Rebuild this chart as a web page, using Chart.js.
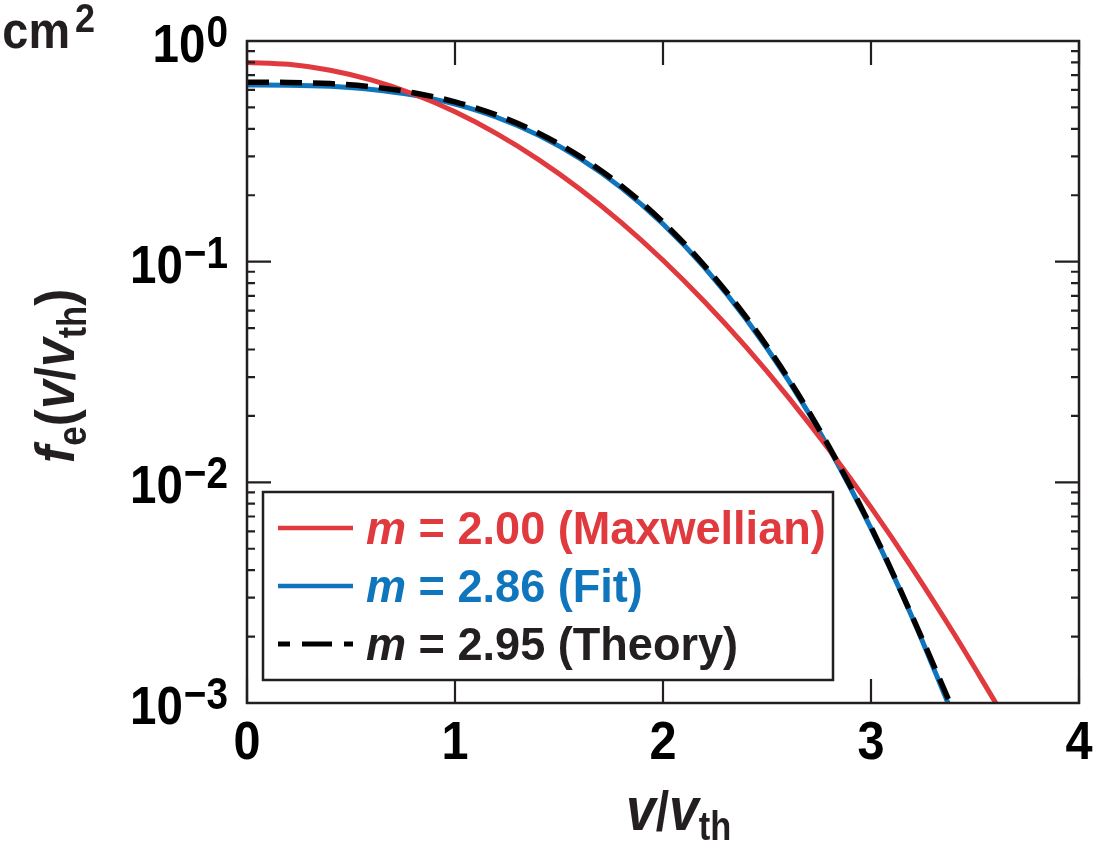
<!DOCTYPE html>
<html><head><meta charset="utf-8">
<script src="https://cdn.jsdelivr.net/npm/chart.js@4.4.1/dist/chart.umd.min.js"></script>
<style>html,body{margin:0;padding:0;background:#fff}#wrap{width:1106px;height:848px;position:relative}</style>
</head><body><div id="wrap"><canvas id="c"></canvas></div>
<script>
// ---- data ----
const vRed = [0,0.2,0.4,0.6,0.8,1.0,1.2,1.4,1.6,1.8,2.0,2.2,2.4,2.6,2.8,3.0,3.2,3.4,3.6];
const fRed = [0.800,0.7837,0.7366,0.6644,0.5751,0.4775,0.3806,0.2910,0.2135,0.1503,0.1015,0.06583,0.04096,0.02445,0.01401,0.007697,0.004058,0.002054,0.0010];
const vFit = [0,0.2,0.4,0.6,0.8,1.0,1.2,1.4,1.6,1.8,2.0,2.2,2.4,2.6,2.8,3.0,3.2,3.37];
const fFit = [0.632,0.6307,0.6229,0.6034,0.5687,0.5175,0.4514,0.3745,0.2937,0.2160,0.1481,0.0940,0.0549,0.02926,0.01417,0.006184,0.002423,0.0010];
const vTheory = [0,0.2,0.4,0.6,0.8,1.0,1.2,1.4,1.6,1.8,2.0,2.2,2.4,2.6,2.8,3.0,3.2,3.38];
const fTheory = [0.650,0.649,0.641,0.620,0.583,0.530,0.462,0.383,0.300,0.2205,0.1510,0.0958,0.0560,0.0298,0.01440,0.00628,0.00245,0.0010];
const xTickValues = [0,1,2,3,4];
const yTickValues = [1,0.1,0.01,0.001];
const yTickExponents = ['0','\u22121','\u22122','\u22123'];
const legendM = ['2.00','2.86','2.95'];
const legendNotes = ['(Maxwellian)','(Fit)','(Theory)'];

const RED = '#e03a3e', BLUE = '#0f75bc', BLACK = '#000000', TXT = '#231f20';
const FONT = "'Liberation Sans', Arial, Helvetica, sans-serif";
const toXY = (xs, ys) => xs.map((x, i) => ({x: x, y: ys[i]}));

function fontOf(r) { return (r.italic ? 'italic ' : '') + 'bold ' + r.size + 'px ' + FONT; }
function textW(ctx, r) { ctx.font = fontOf(r); return ctx.measureText(r.text).width * (r.sx || 1); }
function drawT(ctx, r, x, y) {
  ctx.save();
  ctx.font = fontOf(r);
  ctx.fillStyle = r.color || TXT;
  ctx.textAlign = 'left'; ctx.textBaseline = 'alphabetic';
  ctx.translate(x, y + (r.dy || 0));
  ctx.scale(r.sx || 1, 1);
  ctx.fillText(r.text, 0, 0);
  ctx.restore();
}
function runs(ctx, list, x, y) {
  let cx = x;
  for (const r of list) { drawT(ctx, r, cx, y); cx += textW(ctx, r) + (r.gap || 0); }
  return cx;
}

const deco = {
  id: 'deco',
  afterDraw(chart) {
    const ctx = chart.ctx, a = chart.chartArea;
    const xs = chart.scales.x, ys = chart.scales.y;
    ctx.save();
    // legend box
    const lx = 263, ly = 492, lw = 570, lh = 188;
    ctx.fillStyle = '#fff';
    ctx.fillRect(lx, ly, lw, lh);
    ctx.strokeStyle = TXT; ctx.lineWidth = 2.5;
    ctx.strokeRect(lx, ly, lw, lh);
    const cols = [RED, BLUE, TXT];
    const dashes = [[], [], [30, 12]];
    const baselines = [544, 602, 660];
    for (let i = 0; i < 3; i++) {
      const yl = baselines[i] - 16;
      ctx.beginPath();
      ctx.setLineDash(dashes[i]);
      ctx.lineDashOffset = i === 2 ? 18 : 0;
      ctx.strokeStyle = i === 2 ? BLACK : cols[i];
      ctx.lineWidth = i === 2 ? 5 : 4.5;
      ctx.moveTo(278, yl); ctx.lineTo(353, yl); ctx.stroke();
      ctx.setLineDash([]);
      runs(ctx, [
        {text: 'm', italic: true, size: 46, sx: 0.98, color: cols[i]},
        {text: ' = ' + legendM[i] + ' ' + legendNotes[i], size: 46, sx: 0.98, color: cols[i]}
      ], 366, baselines[i]);
    }
    // frame
    ctx.strokeStyle = TXT; ctx.lineWidth = 2.5;
    ctx.strokeRect(a.left, a.top, a.right - a.left, a.bottom - a.top);
    // x ticks (bottom and top, inward)
    ctx.lineWidth = 2.2;
    ctx.beginPath();
    for (const v of xTickValues) {
      const px = xs.getPixelForValue(v);
      ctx.moveTo(px, a.bottom); ctx.lineTo(px, a.bottom - 24);
      ctx.moveTo(px, a.top); ctx.lineTo(px, a.top + 24);
    }
    // y major + minor ticks (left and right, inward)
    for (const v of yTickValues) {
      const py = ys.getPixelForValue(v);
      ctx.moveTo(a.left, py); ctx.lineTo(a.left + 24, py);
      ctx.moveTo(a.right, py); ctx.lineTo(a.right - 24, py);
    }
    for (let d = 0.001; d < 0.5; d *= 10) {
      for (let k = 2; k <= 9; k++) {
        const py = ys.getPixelForValue(k * d);
        ctx.moveTo(a.left, py); ctx.lineTo(a.left + 8, py);
        ctx.moveTo(a.right, py); ctx.lineTo(a.right - 8, py);
      }
    }
    ctx.stroke();
    // x tick labels
    for (const v of xTickValues) {
      const r = {text: String(v), size: 54, sx: 0.9, color: '#000'};
      const w = textW(ctx, r);
      drawT(ctx, r, xs.getPixelForValue(v) - w / 2, 759);
    }
    // y tick labels 10^n
    yTickValues.forEach((v, i) => {
      const py = ys.getPixelForValue(v);
      const sup = {text: yTickExponents[i], size: 44, sx: 0.88, color: '#000'};
      const base = {text: '10', size: 54, sx: 0.88, color: '#000'};
      const ws = textW(ctx, sup), wb = textW(ctx, base);
      const right = 228;
      const bl = py + 21;
      drawT(ctx, base, right - ws - wb - 1, bl);
      drawT(ctx, sup, right - ws, bl - 15);
    });
    // cut-off unit at top-left
    const cm = {text: 'cm', size: 52, sx: 0.9, color: TXT};
    drawT(ctx, cm, 70 - textW(ctx, cm), 48);
    drawT(ctx, {text: '2', size: 40, sx: 0.9, color: TXT}, 75, 32);
    // x title
    runs(ctx, [
      {text: 'v', italic: true, size: 62, sx: 0.86, color: TXT},
      {text: '/', size: 56, sx: 0.86, color: TXT},
      {text: 'v', italic: true, size: 62, sx: 0.86, color: TXT},
      {text: 'th', size: 40, sx: 0.86, color: TXT, dy: 10}
    ], 626, 830);
    // y title (rotated)
    ctx.save();
    ctx.translate(74, 463);
    ctx.rotate(-Math.PI / 2);
    runs(ctx, [
      {text: 'f', italic: true, size: 56, sx: 0.92, color: TXT},
      {text: 'e', size: 40, sx: 0.88, color: TXT, dy: 12},
      {text: '(', size: 56, sx: 0.92, color: TXT},
      {text: 'v', italic: true, size: 60, sx: 0.86, color: TXT},
      {text: '/', size: 56, sx: 0.86, color: TXT},
      {text: 'v', italic: true, size: 60, sx: 0.86, color: TXT},
      {text: 'th', size: 40, sx: 0.86, color: TXT, dy: 12},
      {text: ')', size: 56, sx: 0.92, color: TXT}
    ], 0, 0);
    ctx.restore();
    ctx.restore();
  }
};

new Chart(document.getElementById('c'), {
  type: 'line',
  data: {
    datasets: [
      {label: 'm = 2.95 (Theory)', data: toXY(vTheory, fTheory), borderColor: BLACK, borderWidth: 5.5, borderDash: [22, 11], cubicInterpolationMode: 'monotone', pointRadius: 0, fill: false},
      {label: 'm = 2.00 (Maxwellian)', data: toXY(vRed, fRed), borderColor: RED, borderWidth: 5, cubicInterpolationMode: 'monotone', pointRadius: 0, fill: false},
      {label: 'm = 2.86 (Fit)', data: toXY(vFit, fFit), borderColor: BLUE, borderWidth: 5, cubicInterpolationMode: 'monotone', pointRadius: 0, fill: false}
    ]
  },
  options: {
    responsive: true, maintainAspectRatio: false, animation: false, devicePixelRatio: 1,
    layout: {padding: {left: 247, right: 27, top: 41, bottom: 145}},
    plugins: {legend: {display: false}, tooltip: {enabled: false}},
    scales: {
      x: {type: 'linear', min: 0, max: 4, display: false},
      y: {type: 'logarithmic', min: 0.001, max: 1, display: false}
    },
    elements: {point: {radius: 0}, line: {borderCapStyle: 'butt'}}
  },
  plugins: [deco]
});
</script>
</body></html>
